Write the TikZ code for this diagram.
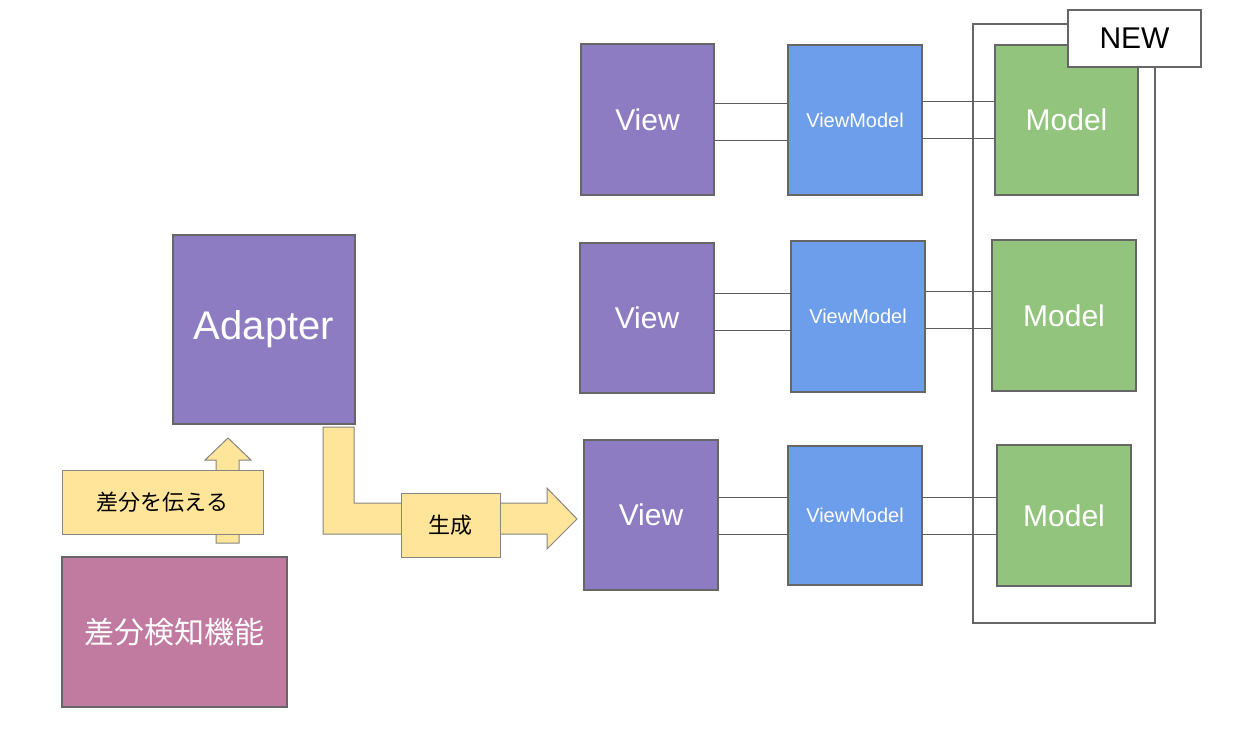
\documentclass[tikz,border=0pt]{standalone}
\usepackage{fontspec}
\setmainfont{Liberation Sans}
\newfontfamily\jp{Noto Sans CJK JP}
\definecolor{viewc}{HTML}{8E7CC3}
\definecolor{vmc}{HTML}{6D9EEB}
\definecolor{modelc}{HTML}{93C47D}
\definecolor{detc}{HTML}{C27BA0}
\definecolor{notec}{HTML}{FFE599}
\definecolor{edgec}{HTML}{666666}
\tikzset{
  box/.style={draw=edgec, line width=1.2pt, inner sep=0pt, text=white, font=\fontsize{30}{36}\selectfont},
  note/.style={draw=edgec!80, line width=1pt, fill=notec, inner sep=0pt, font=\jp\fontsize{22}{26}\selectfont},
  block/.style={draw=edgec!80, line width=1pt, fill=notec},
  link/.style={draw=edgec!90!black, line width=1pt}
}
\begin{document}
\begin{tikzpicture}[x=1pt, y=-1pt]
\useasboundingbox (0,0) rectangle (1244,755);
\draw[edgec, line width=1.2pt] (973,24) rectangle (1155,623);
\node[box, fill=viewc, minimum width=133pt, minimum height=151pt] (view1) at (647.5,119.5) {View};
\node[box, fill=viewc, minimum width=134pt, minimum height=150pt] (view2) at (647,318) {View};
\node[box, fill=viewc, minimum width=134pt, minimum height=150pt] (view3) at (651,515) {View};
\node[box, fill=vmc, minimum width=134pt, minimum height=150pt, font=\fontsize{20}{24}\selectfont] (vm1) at (855,120) {ViewModel};
\node[box, fill=vmc, minimum width=134pt, minimum height=151pt, font=\fontsize{20}{24}\selectfont] (vm2) at (858,316.5) {ViewModel};
\node[box, fill=vmc, minimum width=134pt, minimum height=139pt, font=\fontsize{20}{24}\selectfont] (vm3) at (855,515.5) {ViewModel};
\node[box, fill=modelc, minimum width=143pt, minimum height=150pt] (model1) at (1066.5,120) {Model};
\node[box, fill=modelc, minimum width=144pt, minimum height=151pt] (model2) at (1064,315.5) {Model};
\node[box, fill=modelc, minimum width=134pt, minimum height=141pt] (model3) at (1064,515.5) {Model};
\foreach \r/\ya/\yb/\yc/\yd in {1/103/140/101/138, 2/293/330/291/328, 3/497/534/497/534} {
  \draw[link] (view\r.east |- 0,\ya) -- (vm\r.west |- 0,\ya);
  \draw[link] (view\r.east |- 0,\yb) -- (vm\r.west |- 0,\yb);
  \draw[link] (vm\r.east |- 0,\yc) -- (model\r.west |- 0,\yc);
  \draw[link] (vm\r.east |- 0,\yd) -- (model\r.west |- 0,\yd);
}
\node[box, fill=viewc, minimum width=182pt, minimum height=189pt, font=\fontsize{40}{48}\selectfont] (adapter) at (264,329.5) {Adapter};
\node[box, fill=detc, minimum width=225pt, minimum height=150pt, font=\jp\fontsize{30}{36}\selectfont] (detect) at (174.5,632) {差分検知機能};
\draw[block] (216,543) -- (216,460) -- (205,460) -- (228,438) -- (251,460) -- (239,460) -- (239,543) -- cycle;
\draw[block] (323,427) -- (354,427) -- (354,503) -- (547,503) -- (547,488) -- (577,519) -- (547,549) -- (547,534) -- (323,534) -- cycle;
\node[note, minimum width=201pt, minimum height=64pt] (tell) at (162.5,502) {差分を伝える};
\node[note, minimum width=99pt, minimum height=64pt] (make) at (450.5,525) {生成};
\node[draw=edgec, line width=1.2pt, fill=white, inner sep=0pt, minimum width=133pt, minimum height=57pt, font=\fontsize{30}{36}\selectfont] (new) at (1134.5,38.5) {NEW};
\end{tikzpicture}
\end{document}
